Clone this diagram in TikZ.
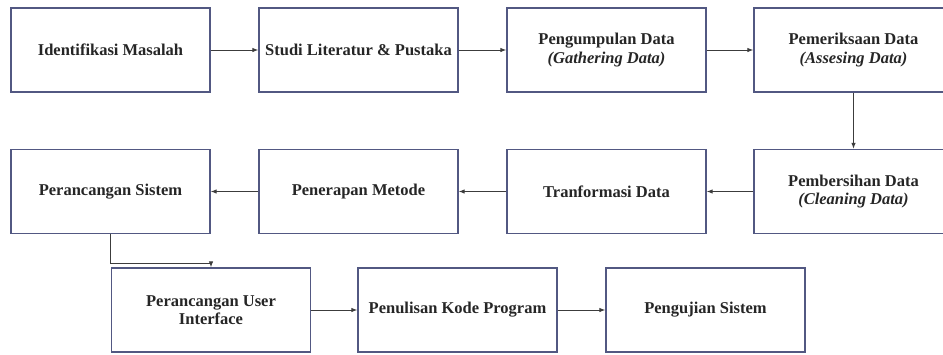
\documentclass[tikz,border=0pt]{standalone}
\usepackage{fontspec}
\setmainfont{Liberation Serif}
\usetikzlibrary{positioning,arrows.meta}

\definecolor{boxline}{RGB}{82,88,130}
\definecolor{arrowline}{RGB}{60,60,60}

\begin{document}
\begin{tikzpicture}[x=1pt, y=-1pt,
		stepbox/.style={rectangle, draw=boxline, line width=1.3pt, minimum width=199pt, minimum height=84pt,
			align=center, font=\fontsize{16.5}{18.5}\selectfont\bfseries, text=black!85},
		flow/.style={-{Latex[length=6pt, width=4.5pt]}, draw=arrowline, line width=1pt}]
				\useasboundingbox[fill=white] (0,0) rectangle (943,354);
				% baris pertama
				\node[stepbox] (IM) at (110.5, 50) {Identifikasi Masalah};
				\node[stepbox] (SL) at (358.5, 50) {Studi Literatur \& Pustaka};
				\node[stepbox] (PD) at (606.5, 50) {Pengumpulan Data\\\textit{(Gathering Data)}};
				\node[stepbox] (AD) at (853.5, 50) {Pemeriksaan Data\\\textit{(Assesing Data)}};
				% baris kedua
				\node[stepbox] (CD) at (853.5, 191.5) {Pembersihan Data\\\textit{(Cleaning Data)}};
				\node[stepbox] (TD) at (606.5, 191.5) {Tranformasi Data};
				\node[stepbox] (PM) at (358.5, 191.5) {Penerapan Metode};
				\node[stepbox] (PS) at (110.5, 191.5) {Perancangan Sistem};
				% baris ketiga
				\node[stepbox] (UI) at (211, 310) {Perancangan User\\Interface};
				\node[stepbox] (KP) at (457.5, 310) {Penulisan Kode Program};
				\node[stepbox] (US) at (705.5, 310) {Pengujian Sistem};
				\coordinate (bend) at (211, 263);
				\draw[flow] (IM) -- (SL);
				\draw[flow] (SL) -- (PD);
				\draw[flow] (PD) -- (AD);
				\draw[flow] (AD) -- (CD);
				\draw[flow] (CD) -- (TD);
				\draw[flow] (TD) -- (PM);
				\draw[flow] (PM) -- (PS);
				\draw[flow] (PS.south) |- (bend) -- (UI.north);
				\draw[flow] (UI) -- (KP);
				\draw[flow] (KP) -- (US);
			\end{tikzpicture}
\end{document}
